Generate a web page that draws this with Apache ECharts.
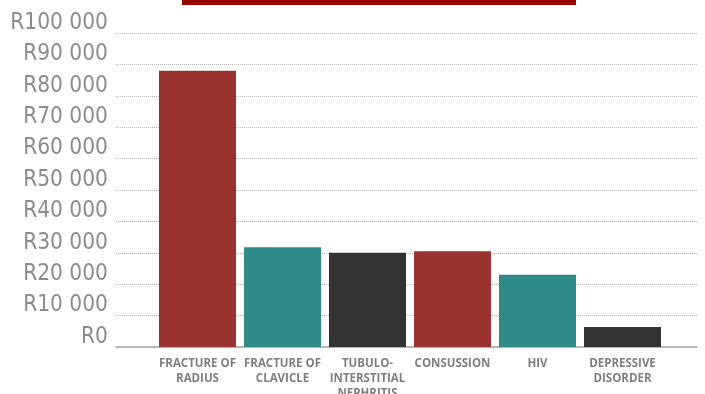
<!DOCTYPE html>
<html>
<head>
<meta charset="utf-8">
<script src="https://cdn.jsdelivr.net/npm/echarts@6/dist/echarts.min.js"></script>
<style>
  html, body { margin: 0; padding: 0; background: #fff; }
  #chart { width: 705px; height: 394px; }
</style>
</head>
<body>
<div id="chart"></div>
<script>
// chart data
const categories = ['FRACTURE OF\nRADIUS', 'FRACTURE OF\nCLAVICLE', 'TUBULO-\nINTERSTITIAL\nNEPHRITIS', 'CONSUSSION', 'HIV', 'DEPRESSIVE\nDISORDER'];
const costs = [88000, 31800, 30000, 30500, 23000, 6400];
const barColors = ['#9a3230', '#2e8b87', '#333333', '#9a3230', '#2e8b87', '#333333'];
const yMax = 100000;
const yStep = 10000;

const chart = echarts.init(document.getElementById('chart'), null, { renderer: 'canvas' });

const formatRand = (val) => 'R' + String(val).replace(/\B(?=(\d{3})+(?!\d))/g, ' ');

const option = {
    backgroundColor: '#fff',
    animation: false,
    graphic: [{
        type: 'rect',
        shape: { x: 182, y: 0, width: 394, height: 5 },
        style: { fill: '#990000' }
    }],
    grid: [
        // full-width grid: y labels, dotted split lines, base axis line
        { left: 116, right: 8, top: 33, bottom: 47, outerBoundsMode: 'none' },
        // inner grid holding the bars
        { left: 155, right: 40, top: 33, bottom: 47, outerBoundsMode: 'none' }
    ],
    xAxis: [
        {
            type: 'category',
            gridIndex: 0,
            data: [''],
            axisLine: { lineStyle: { color: '#a6a6a6', width: 1.5 } },
            axisTick: { show: false },
            axisLabel: { show: false }
        },
        {
            type: 'category',
            gridIndex: 1,
            data: categories,
            axisLine: { show: false },
            axisTick: { show: false },
            axisLabel: {
                color: '#7f7f7f',
                fontFamily: 'Open Sans',
                fontWeight: 'bold',
                fontSize: 11.5,
                lineHeight: 15,
                margin: 9,
                interval: 0
            }
        }
    ],
    yAxis: [
        {
            type: 'value',
            gridIndex: 0,
            min: 0,
            max: yMax,
            interval: yStep,
            axisLine: { show: false },
            axisTick: { show: false },
            axisLabel: {
                color: '#8c8c8c',
                fontFamily: '"DejaVu Sans Condensed", sans-serif',
                fontSize: 22.5,
                margin: 8,
                verticalAlign: 'bottom',
                lineHeight: 20,
                formatter: formatRand
            },
            splitLine: { lineStyle: { color: '#b4b4b4', type: [1, 1], width: 1 } }
        },
        {
            type: 'value',
            gridIndex: 1,
            min: 0,
            max: yMax,
            interval: yStep,
            axisLine: { show: false },
            axisTick: { show: false },
            axisLabel: { show: false },
            splitLine: { show: false }
        }
    ],
    series: [{
        type: 'bar',
        xAxisIndex: 1,
        yAxisIndex: 1,
        barWidth: 77,
        data: costs.map((v, i) => ({ value: v, itemStyle: { color: barColors[i] } }))
    }]
};

chart.setOption(option);
window.addEventListener('resize', () => chart?.resize());
</script>
</body>
</html>
